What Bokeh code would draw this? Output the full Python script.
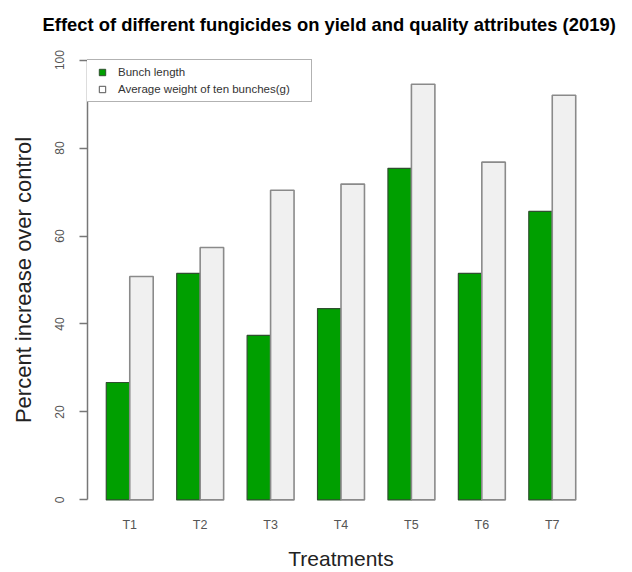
from bokeh.plotting import figure
from bokeh.models import Range1d, FixedTicker, Legend, LegendItem
from bokeh.embed import file_html
from bokeh.resources import INLINE

# ---- data ----
treatments = ["T1", "T2", "T3", "T4", "T5", "T6", "T7"]
bunch_length = [26.7, 51.5, 37.4, 43.5, 75.4, 51.5, 65.6]
avg_weight = [50.8, 57.4, 70.4, 71.8, 94.5, 76.8, 92.0]
y_ticks = [0, 20, 40, 60, 80, 100]
series_names = ["Bunch length", "Average weight of ten bunches(g)"]
title_text = "Effect of different fungicides on yield and quality attributes (2019)"

FONT = "Liberation Sans"
GREEN = "#009f00"
LIGHT = "#f0f0f0"

n = len(treatments)
x_green = [3 * i + 1.5 for i in range(n)]
x_grey = [3 * i + 2.5 for i in range(n)]
x_tick = [3 * i + 2 for i in range(n)]

p = figure(width=632, height=572,
           x_range=Range1d(0.2, 21.8), y_range=Range1d(-4, 104),
           output_backend="svg", toolbar_location=None,
           min_border_left=87, min_border_right=38,
           min_border_top=42, min_border_bottom=55)

p.outline_line_color = None
p.grid.visible = False
p.background_fill_color = "white"

r1 = p.vbar(x=x_green, top=bunch_length, bottom=0, width=1,
            fill_color=GREEN, line_color="#2f4f2f", line_width=1.2)
r2 = p.vbar(x=x_grey, top=avg_weight, bottom=0, width=1,
            fill_color=LIGHT, line_color="#8a8a8a", line_width=1.6)

# legend proxies (invisible, NaN positions)
nan = float("nan")
d1 = p.scatter(x=[nan], y=[nan], marker="square", fill_color=GREEN,
               line_color="#2f4f2f", size=8)
d2 = p.scatter(x=[nan], y=[nan], marker="square", fill_color="white",
               line_color="#555555", size=8)

legend = Legend(items=[LegendItem(label=series_names[0], renderers=[d1]),
                       LegendItem(label=series_names[1], renderers=[d2])],
                location=(-2, 415), padding=4, spacing=1, margin=0,
                glyph_width=24, glyph_height=16, label_height=16,
                label_width=189, label_standoff=4,
                label_text_font=FONT, label_text_font_size="11.5px",
                label_text_color="#333333",
                border_line_color="#666666", border_line_width=1,
                background_fill_color="white", background_fill_alpha=1.0)
p.add_layout(legend)

# title
p.title.text = title_text
p.title.text_font = FONT
p.title.text_font_size = "18.4px"
p.title.text_font_style = "bold"
p.title.text_color = "black"
p.title.align = "left"
p.title.offset = -45
p.title.standoff = 16

# x axis
xa = p.xaxis[0]
xa.ticker = FixedTicker(ticks=x_tick)
xa.major_label_overrides = {t: lab for t, lab in zip(x_tick, treatments)}
xa.axis_line_color = None
xa.major_tick_line_color = None
xa.minor_tick_line_color = None
xa.major_tick_out = 0
xa.major_tick_in = 0
xa.major_label_standoff = 0
xa.major_label_text_font = FONT
xa.major_label_text_font_size = "12.5px"
xa.major_label_text_color = "#555555"
xa.axis_label = "Treatments"
xa.axis_label_text_font = FONT
xa.axis_label_text_font_size = "21px"
xa.axis_label_text_font_style = "normal"
xa.axis_label_text_color = "#222222"
xa.axis_label_standoff = 12

# y axis
ya = p.yaxis[0]
ya.bounds = (0, 100)
ya.ticker = FixedTicker(ticks=y_ticks)
ya.minor_tick_line_color = None
ya.major_tick_out = 8
ya.major_tick_in = 0
ya.axis_line_color = "#777777"
ya.axis_line_width = 1.5
ya.major_tick_line_color = "#777777"
ya.major_tick_line_width = 1.5
ya.major_label_orientation = "parallel"
ya.major_label_standoff = 15
ya.major_label_text_font = FONT
ya.major_label_text_font_size = "12px"
ya.major_label_text_color = "#555555"
ya.axis_label = "Percent increase over control"
ya.axis_label_text_font = FONT
ya.axis_label_text_font_size = "22px"
ya.axis_label_text_font_style = "normal"
ya.axis_label_text_color = "#222222"
ya.axis_label_standoff = 17

open("out.html", "w").write(file_html(p, INLINE))
